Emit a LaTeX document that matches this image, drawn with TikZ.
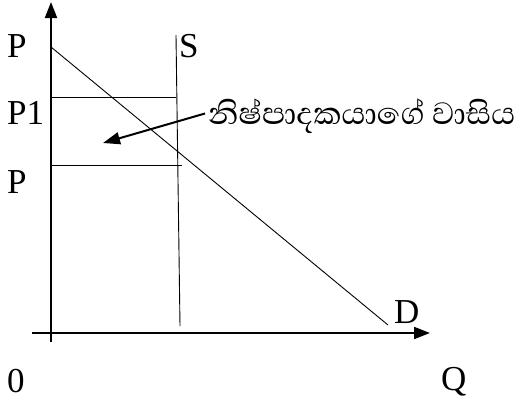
\documentclass[tikz,border=0pt]{standalone}
\usepackage{fontspec}
\setmainfont{Liberation Serif}
\newfontfamily\sinhalafont[Script=Sinhala]{Abhaya Libre}
\usetikzlibrary{arrows.meta}
\begin{document}
\begin{tikzpicture}[x=1pt,y=-1pt,
  axis/.style={line width=2pt,-{Triangle[length=16pt,width=12pt]}},
  thin line/.style={line width=0.9pt},
  lbl/.style={anchor=base west,inner sep=0pt,font=\fontsize{35}{35}\selectfont},
  note/.style={line width=2pt,-{Triangle[length=17pt,width=12pt]}}]
\useasboundingbox (0,0) rectangle (520,399);
% axes
\coordinate (yb) at (51,342);
\coordinate (yt) at (51,2);
\coordinate (xl) at (32,333);
\coordinate (xr) at (430,333);
\draw[axis] (yb) -- (yt);
\draw[axis] (xl) -- (xr);
% demand
\coordinate (d1) at (51,47);
\coordinate (d2) at (388,325);
\draw[thin line] (d1) -- (d2);
% supply
\coordinate (s1) at (176,35);
\coordinate (s2) at (180,326);
\draw[thin line] (s1) -- (s2);
% price lines
\coordinate (p1a) at (51,97.5);
\coordinate (p1b) at (176,97.5);
\draw[thin line] (p1a) -- (p1b);
\coordinate (p0a) at (51,165);
\coordinate (p0b) at (182,165);
\draw[thin line] (p0a) -- (p0b);
% labels
\node[lbl] (lP) at (7,57) {P};
\node[lbl] (lP1) at (7,124) {P1};
\node[lbl] (lP0) at (7,193) {P};
\node[lbl] (lS) at (179,57) {S};
\node[lbl] (lD) at (394,323) {D};
\node[lbl] (l0) at (7,392) {0};
\node[lbl] (lQ) at (441,390) {Q};
\node[anchor=base west,inner sep=0pt,font=\sinhalafont\fontsize{39.5}{40}\selectfont] (txt) at (208,124) {නිෂ්පාදකයාගේ වාසිය};
\coordinate (tip) at (103,143);
\coordinate (start) at (205,113.5);
\draw[note] (start) -- (tip);
\end{tikzpicture}
\end{document}
